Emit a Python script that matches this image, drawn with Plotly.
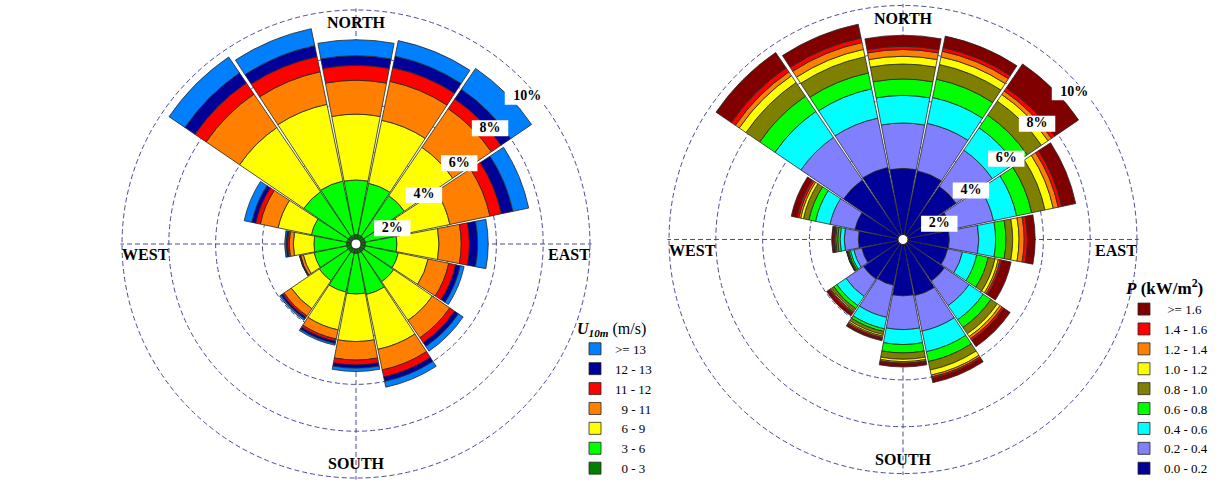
import plotly.graph_objects as go

# ---------------- data ----------------
directions = ["N", "NNE", "NE", "ENE", "E", "ESE", "SE", "SSE",
              "S", "SSW", "SW", "WSW", "W", "WNW", "NW", "NNW"]
dir_angles = [0, 22.5, 45, 67.5, 90, 112.5, 135, 157.5,
              180, 202.5, 225, 247.5, 270, 292.5, 315, 337.5]

# Left rose: wind speed U10m classes (m/s), frequency in %
speed_labels = ["0 - 3", "3 - 6", "6 - 9", "9 - 11", "11 - 12", "12 - 13", ">= 13"]
u_0_3   = [0.40, 0.40, 0.40, 0.40, 0.40, 0.40, 0.40, 0.40, 0.40, 0.40, 0.40, 0.40, 0.40, 0.40, 0.40, 0.40]
u_3_6   = [2.34, 2.25, 2.10, 1.60, 1.35, 1.45, 1.55, 1.80, 1.74, 1.70, 1.50, 1.43, 1.40, 1.55, 2.30, 2.35]
u_6_9   = [2.81, 2.75, 2.50, 2.10, 1.80, 1.30, 2.00, 2.40, 2.03, 1.65, 1.45, 0.47, 0.88, 1.45, 3.32, 3.35]
u_9_11  = [1.45, 1.70, 2.00, 1.75, 0.95, 0.90, 0.90, 0.90, 0.79, 0.40, 0.37, 0.12, 0.18, 0.78, 1.73, 1.42]
u_11_12 = [0.64, 0.60, 0.50, 0.50, 0.35, 0.30, 0.25, 0.30, 0.21, 0.10, 0.08, 0.02, 0.07, 0.20, 0.58, 0.66]
u_12_13 = [0.41, 0.50, 0.50, 0.50, 0.35, 0.20, 0.20, 0.20, 0.14, 0.10, 0.08, 0.02, 0.06, 0.17, 0.52, 0.48]
u_ge_13 = [0.68, 0.68, 1.08, 0.69, 0.45, 0.17, 0.24, 0.25, 0.14, 0.07, 0.07, 0.01, 0.06, 0.33, 0.82, 0.74]

# Right rose: wind power density P classes (kW/m2), frequency in %
power_labels = ["0.0 - 0.2", "0.2 - 0.4", "0.4 - 0.6", "0.6 - 0.8", "0.8 - 1.0",
                "1.0 - 1.2", "1.2 - 1.4", "1.4 - 1.6", ">= 1.6"]
p_00_02 = [3.04, 3.00, 2.75, 2.10, 1.98, 1.95, 2.15, 2.45, 2.41, 2.00, 2.05, 1.80, 1.91, 2.10, 3.08, 3.15]
p_02_04 = [1.94, 2.07, 1.87, 1.85, 1.26, 0.65, 1.27, 1.55, 1.44, 1.40, 0.90, 0.35, 0.60, 1.09, 2.20, 2.15]
p_04_06 = [1.18, 1.13, 1.16, 1.01, 0.72, 0.62, 0.73, 0.90, 0.64, 0.50, 0.47, 0.15, 0.18, 0.63, 1.34, 1.28]
p_06_08 = [0.70, 0.80, 0.65, 0.66, 0.44, 0.50, 0.40, 0.43, 0.36, 0.12, 0.16, 0.07, 0.10, 0.29, 0.79, 0.69]
p_08_10 = [0.64, 0.64, 0.73, 0.58, 0.29, 0.30, 0.33, 0.37, 0.27, 0.13, 0.11, 0.05, 0.09, 0.24, 0.71, 0.71]
p_10_12 = [0.33, 0.33, 0.34, 0.36, 0.27, 0.14, 0.14, 0.22, 0.10, 0.07, 0.05, 0.02, 0.04, 0.12, 0.35, 0.32]
p_12_14 = [0.29, 0.25, 0.18, 0.22, 0.22, 0.08, 0.11, 0.08, 0.06, 0.06, 0.04, 0.01, 0.03, 0.08, 0.20, 0.30]
p_14_16 = [0.14, 0.16, 0.17, 0.15, 0.14, 0.08, 0.09, 0.07, 0.04, 0.05, 0.05, 0.01, 0.03, 0.09, 0.21, 0.20]
p_ge_16 = [0.47, 0.50, 1.23, 0.61, 0.33, 0.40, 0.32, 0.18, 0.13, 0.09, 0.12, 0.01, 0.07, 0.24, 0.79, 0.60]

pct_ticks = [2, 4, 6, 8, 10]
pct_labels = ["2%", "4%", "6%", "8%", "10%"]
compass_labels = ["NORTH", "EAST", "SOUTH", "WEST"]
compass_angles = [0, 90, 180, 270]

# ---------------- styling ----------------
speed_colors = ["#007F00", "#00FF00", "#FFFF00", "#FF8000", "#FF0000", "#000099", "#0080FF"]
power_colors = ["#000099", "#8080FF", "#00FFFF", "#00FF00", "#808000",
                "#FFFF00", "#FF8000", "#FF0000", "#800000"]
SERIF = "Liberation Serif, Times New Roman, serif"
GRID = "#4a4a9a"
NB = "\u00a0"

speed_series = [u_0_3, u_3_6, u_6_9, u_9_11, u_11_12, u_12_13, u_ge_13]
power_series = [p_00_02, p_02_04, p_04_06, p_06_08, p_08_10, p_10_12, p_12_14, p_14_16, p_ge_16]
speed_legend_names = [NB * 2 + "0 - 3", NB * 2 + "3 - 6", NB * 2 + "6 - 9", NB * 2 + "9 - 11",
                      "11 - 12", "12 - 13", ">= 13"]
power_legend_names = power_labels[:-1] + [NB + ">= 1.6"]

# label placement (decoration only)
lab_r = [1.69, 3.58, 5.60, 7.57, 9.65]
lab_th = [66.6, 54.2, 52.0, 49.2, 49.3]
lab_w = [26, 26, 26, 26, 32]
compass_r = [9.74, 10.0, 9.8, 10.0]
compass_th = [0, 91, 180, 269]

fig = go.Figure()


def add_rose(series, colors, names, subplot, legend):
    for vals, col, name in zip(series, colors, names):
        fig.add_trace(go.Barpolar(
            r=vals, theta=dir_angles, width=21.5, name=name,
            marker=dict(color=col, line=dict(color="#262626", width=0.8)),
            subplot=subplot, legend=legend, hoverinfo="skip"))
    # centre hole
    fig.add_trace(go.Scatterpolar(
        r=[0], theta=[0], mode="markers", subplot=subplot, showlegend=False,
        marker=dict(size=10, color="white", opacity=1,
                    line=dict(color="#262626", width=1)),
        hoverinfo="skip", cliponaxis=False))
    # white boxes behind % labels
    fig.add_trace(go.Scatterpolar(
        r=lab_r, theta=lab_th, mode="markers", subplot=subplot, showlegend=False,
        marker=dict(symbol="line-ew", size=lab_w, color="white", opacity=1,
                    line=dict(color="white", width=16)),
        hoverinfo="skip", cliponaxis=False))
    fig.add_trace(go.Scatterpolar(
        r=lab_r, theta=lab_th, mode="text", text=pct_labels, subplot=subplot,
        showlegend=False, textposition="middle center",
        textfont=dict(family=SERIF, size=14, color="black", weight="bold"),
        hoverinfo="skip", cliponaxis=False))
    # compass labels
    fig.add_trace(go.Scatterpolar(
        r=compass_r, theta=compass_th, mode="text", text=compass_labels,
        subplot=subplot, showlegend=False,
        textposition=["bottom center", "bottom left", "top center", "bottom right"],
        textfont=dict(family=SERIF, size=16, color="black", weight="bold"),
        hoverinfo="skip", cliponaxis=False))


add_rose(speed_series, speed_colors, speed_legend_names, "polar", "legend")
add_rose(power_series, power_colors, power_legend_names, "polar2", "legend2")


def polar_layout(xd, yd):
    return dict(
        domain=dict(x=xd, y=yd),
        bgcolor="white",
        barmode="stack",
        radialaxis=dict(range=[0, 10.07], tickvals=pct_ticks, showticklabels=False,
                        ticks="", showline=False, showgrid=True,
                        gridcolor=GRID, gridwidth=1, griddash="5px,3px"),
        angularaxis=dict(rotation=90, direction="clockwise", tickvals=compass_angles,
                         showticklabels=False, ticks="", showline=False,
                         showgrid=True, gridcolor=GRID, gridwidth=1, griddash="5px,3px"),
    )


legend_common = dict(
    yanchor="bottom", y=0.0, xanchor="left", traceorder="reversed",
    bgcolor="rgba(0,0,0,0)", font=dict(family=SERIF, size=13, color="black"),
)

fig.update_layout(
    width=1227, height=484, autosize=False,
    margin=dict(l=0, r=0, t=0, b=0),
    paper_bgcolor="white",
    showlegend=True,
    polar=polar_layout([120.4 / 1227, 591.6 / 1227], [4.4 / 484, 475.6 / 484]),
    polar2=polar_layout([667.4 / 1227, 1138.6 / 1227], [8.9 / 484, 480.1 / 484]),
    legend=dict(x=575 / 1227,
                title=dict(text="<b><i>U</i></b><sub><b><i>10m</i></b></sub> (m/s)",
                           font=dict(family=SERIF, size=16, color="black")),
                **legend_common),
    legend2=dict(x=1124 / 1227,
                 title=dict(text="<b><i>P</i> (kW/m<sup>2</sup>)</b>",
                            font=dict(family=SERIF, size=17, color="black")),
                 **legend_common),
)

fig.write_html("out.html", config={"displayModeBar": False},
               post_script="document.body.style.margin='0px';")
